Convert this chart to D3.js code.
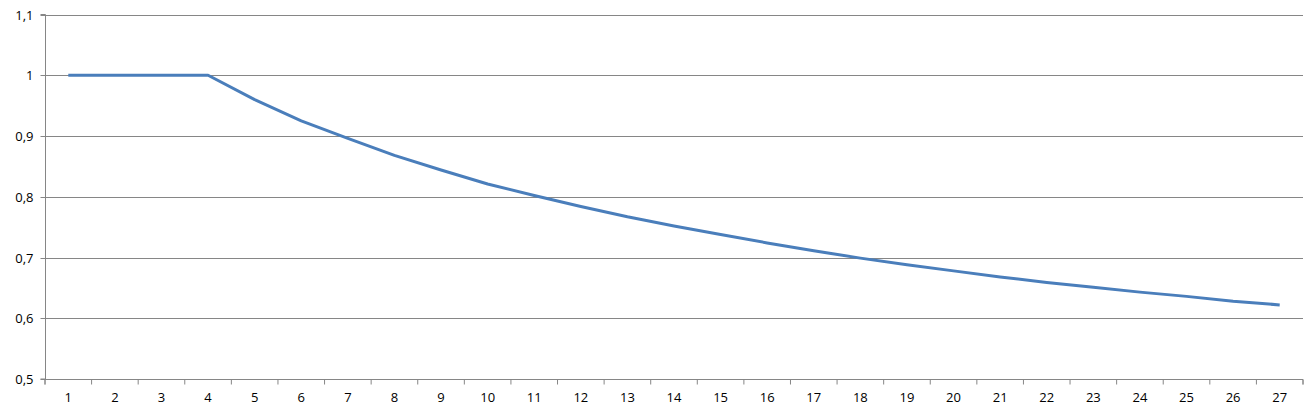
<!DOCTYPE html>
<html>
<head>
<meta charset="utf-8">
<script src="https://cdn.jsdelivr.net/npm/d3@7"></script>
<style>
  html, body { margin: 0; padding: 0; background: #fff; }
  svg text { font-family: "Open Sans", "Liberation Sans", sans-serif; font-size: 13px; fill: #000; }
</style>
</head>
<body>
<div id="container"></div>
<script>
// categories and values
const categories = d3.range(1, 28).map(String);
const values = [1, 1, 1, 1, 0.96, 0.925, 0.896, 0.868, 0.844, 0.821, 0.802, 0.784, 0.767, 0.752,
  0.738, 0.724, 0.711, 0.699, 0.688, 0.678, 0.668, 0.659, 0.651, 0.643, 0.636, 0.628, 0.622];
const yTicks = [0.5, 0.6, 0.7, 0.8, 0.9, 1.0, 1.1];

const width = 1316, height = 416;
const margin = {top: 14.5, right: 13, bottom: 37, left: 45};

const svg = d3.select("div#container")
  .append("svg")
  .attr("width", width)
  .attr("height", height);

const x = d3.scaleBand()
  .domain(categories)
  .range([margin.left, width - margin.right]);

// edge scale for the tick marks between categories
const xEdge = d3.scaleLinear()
  .domain([0, categories.length])
  .range([margin.left, width - margin.right]);

const y = d3.scaleLinear()
  .domain([0.5, 1.1])
  .range([height - margin.bottom, margin.top]);

const fmt = d3.formatLocale({decimal: ",", thousands: ".", grouping: [3], currency: ["", ""]}).format(".1~f");

const grid = "#868686";

// gridlines
svg.append("g")
  .selectAll("line")
  .data(yTicks)
  .enter().append("line")
  .attr("x1", margin.left)
  .attr("x2", width - margin.right)
  .attr("y1", d => Math.round(y(d)) + 0.5)
  .attr("y2", d => Math.round(y(d)) + 0.5)
  .attr("stroke", grid)
  .attr("stroke-width", 1);

// y axis
const yAxis = svg.append("g")
  .attr("transform", `translate(${margin.left + 0.5},0)`)
  .call(d3.axisLeft(y).tickValues(yTicks).tickFormat(fmt).tickSize(5).tickPadding(7).offset(0));
yAxis.select(".domain").attr("stroke", grid);
yAxis.selectAll(".tick line").attr("stroke", grid);
yAxis.selectAll("text").attr("fill", "#000");
yAxis.selectAll(".tick").attr("transform", d => `translate(0,${Math.round(y(d)) + 0.5})`);

// x axis tick marks
const xBase = Math.round(y(0.5)) + 0.5;
const xTicks = svg.append("g")
  .attr("transform", `translate(0,${xBase})`)
  .call(d3.axisBottom(xEdge).tickValues(d3.range(0, categories.length + 1)).tickFormat("").tickSize(5).offset(0));
xTicks.select(".domain").attr("stroke", grid);
xTicks.selectAll(".tick line").attr("stroke", grid);

// x axis labels
const xLabels = svg.append("g")
  .attr("transform", `translate(0,${xBase})`)
  .call(d3.axisBottom(x).tickSize(0).tickPadding(13));
xLabels.select(".domain").remove();
xLabels.selectAll("text").attr("fill", "#000");

// series line
const line = d3.line()
  .x((d, i) => x(categories[i]) + x.bandwidth() / 2)
  .y(d => y(d));

svg.append("path")
  .datum(values)
  .attr("fill", "none")
  .attr("stroke", "#4a7ebb")
  .attr("stroke-width", 3)
  .attr("stroke-linejoin", "round")
  .attr("d", line);
</script>
</body>
</html>
